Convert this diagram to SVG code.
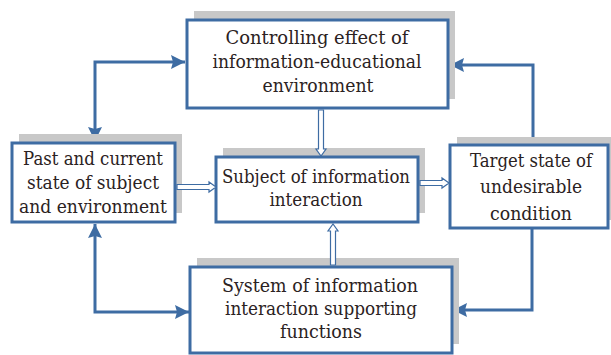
<svg xmlns="http://www.w3.org/2000/svg" width="611" height="355" viewBox="0 0 611 355">
<style>
.box{fill:#ffffff;stroke:#3e6ca3;stroke-width:3}
.sh{fill:#c8c8c8}
.t{font-family:"DejaVu Serif",serif;font-size:18px;fill:#2b2222;text-anchor:middle}
.con{fill:none;stroke:#3e6ca3;stroke-width:3}
.hol{fill:#ffffff;stroke:#3e6ca3;stroke-width:1.2}
</style>
<defs>
<marker id="ah" markerUnits="userSpaceOnUse" markerWidth="16" markerHeight="14" refX="14" refY="7" orient="auto-start-reverse">
<path d="M0,0 L14,7 L0,14 L2,7 Z" fill="#3e6ca3"/>
</marker>
</defs>
<rect width="611" height="355" fill="#ffffff"/>
<g id="connectors">
<path class="con" d="M185,62 H95 V141" marker-start="url(#ah)" marker-end="url(#ah)"/>
<path class="con" d="M533,144 V65 H450" marker-end="url(#ah)"/>
<path class="con" d="M95,224 V312 H189" marker-start="url(#ah)" marker-end="url(#ah)"/>
<path class="con" d="M532,229 V310 H453" marker-end="url(#ah)"/>
</g>
<g id="n-top">
<rect class="sh" x="194" y="11" width="261" height="88"/>
<rect class="box" x="187" y="20" width="261" height="88"/>
<text class="t" x="317" y="44" textLength="183" lengthAdjust="spacingAndGlyphs">Controlling effect of</text>
<text class="t" x="317" y="68" textLength="209" lengthAdjust="spacingAndGlyphs">information-educational</text>
<text class="t" x="318" y="92" textLength="111" lengthAdjust="spacingAndGlyphs">environment</text>
</g>
<g id="n-left">
<rect class="sh" x="19" y="134" width="163" height="79"/>
<rect class="box" x="12" y="143" width="163" height="79"/>
<text class="t" x="93" y="165" textLength="140" lengthAdjust="spacingAndGlyphs">Past and current</text>
<text class="t" x="93" y="189" textLength="132" lengthAdjust="spacingAndGlyphs">state of subject</text>
<text class="t" x="93" y="213" textLength="148" lengthAdjust="spacingAndGlyphs">and environment</text>
</g>
<g id="n-center">
<rect class="sh" x="223" y="148" width="202" height="65"/>
<rect class="box" x="216" y="157" width="202" height="65"/>
<text class="t" x="316" y="183" textLength="188" lengthAdjust="spacingAndGlyphs">Subject of information</text>
<text class="t" x="316" y="206" textLength="93" lengthAdjust="spacingAndGlyphs">interaction</text>
</g>
<g id="n-target">
<rect class="sh" x="457" y="137" width="160" height="83"/>
<rect class="box" x="450" y="145" width="158" height="83"/>
<text class="t" x="531" y="167" textLength="122" lengthAdjust="spacingAndGlyphs">Target state of</text>
<text class="t" x="531" y="193" textLength="102" lengthAdjust="spacingAndGlyphs">undesirable</text>
<text class="t" x="531" y="220" textLength="82" lengthAdjust="spacingAndGlyphs">condition</text>
</g>
<g id="n-bottom">
<rect class="sh" x="197" y="258" width="262" height="86"/>
<rect class="box" x="190" y="267" width="262" height="86"/>
<text class="t" x="320" y="292" textLength="196" lengthAdjust="spacingAndGlyphs">System of information</text>
<text class="t" x="321" y="315" textLength="192" lengthAdjust="spacingAndGlyphs">interaction supporting</text>
<text class="t" x="321" y="338" textLength="82" lengthAdjust="spacingAndGlyphs">functions</text>
</g>
<g id="hollow-connectors">
<polygon class="hol" points="177,184.5 209,184.5 209,182 216,187 209,192 209,189.5 177,189.5"/>
<polygon class="hol" points="420,180.5 442,180.5 442,178 449,183 442,188 442,185.5 420,185.5"/>
<polygon class="hol" points="318.5,110 318.5,149 316,149 321,156 326,149 323.5,149 323.5,110"/>
<polygon class="hol" points="330.5,265 330.5,231 328,231 333,224 338,231 335.5,231 335.5,265"/>
</g>
</svg>
